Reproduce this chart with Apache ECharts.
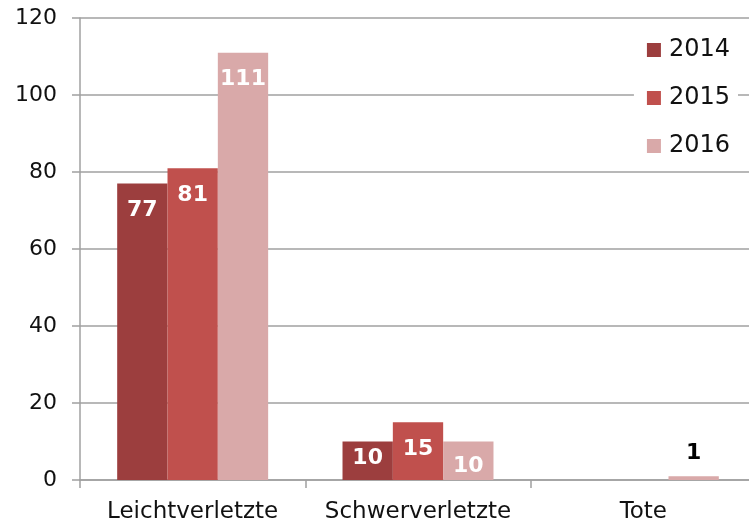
<!DOCTYPE html>
<html>
<head>
<meta charset="utf-8">
<script src="https://cdn.jsdelivr.net/npm/echarts@6/dist/echarts.min.js"></script>
<style>
  html, body { margin: 0; padding: 0; background: #fff; }
  #main { width: 749px; height: 526px; }
</style>
</head>
<body>
<div id="main"></div>
<script>
// Daten
const categories = ['Leichtverletzte', 'Schwerverletzte', 'Tote'];
const years = ['2014', '2015', '2016'];
const values2014 = [77, 10, 0];
const values2015 = [81, 15, 0];
const values2016 = [111, 10, 1];
const yTicks = [0, 20, 40, 60, 80, 100, 120];

const colors = ['#9c3e3e', '#c0504d', '#d9a9a9'];
const font = 'DejaVu Sans, Verdana, sans-serif';

const chart = echarts.init(document.getElementById('main'));

// Abstand der Beschriftung vom Balkenende (wie im Original leicht versetzt)
const labelDist = { '2014': [16, 6, 0], '2015': [16, 16, 0], '2016': [16, 14, 12] };

const makeSeries = (name, data, color) => ({
  name: name,
  type: 'bar',
  barGap: 0,
  barCategoryGap: '33%',
  itemStyle: { color: color },
  data: data.map((v, i) => ({
    value: v,
    // kleine Werte: Beschriftung schwarz über dem Balken
    label: v < 5
      ? { position: 'top', color: '#000', distance: labelDist[name][i] }
      : { distance: labelDist[name][i] },
  })),
  label: {
    show: true,
    position: 'insideTop',
    color: '#fff',
    fontFamily: font,
    fontWeight: 'bold',
    fontSize: 22,
    formatter: (p) => (p.value === 0 ? '' : String(p.value)),
  },
});

chart.setOption({
  animation: false,
  color: colors,
  textStyle: { fontFamily: font },
  legend: {
    orient: 'vertical',
    right: 11,
    top: 30,
    itemWidth: 14,
    itemHeight: 14,
    itemGap: 24,
    icon: 'rect',
    backgroundColor: '#fff',
    padding: [8, 8, 7, 13],
    textStyle: { fontSize: 24, color: '#111', fontFamily: font, padding: [0, 0, 0, 3] },
    data: years,
  },
  grid: {
    left: 80,
    width: 676,
    top: 18,
    bottom: 46,
    containLabel: false,
    outerBoundsMode: 'none',
  },
  xAxis: {
    type: 'category',
    data: categories,
    axisLine: { lineStyle: { color: '#a0a0a0', width: 1.5 } },
    axisTick: { show: true, length: 8, lineStyle: { color: '#a0a0a0', width: 1.5 } },
    axisLabel: { interval: 0, fontSize: 23, color: '#111', margin: 21, fontFamily: font },
  },
  yAxis: {
    type: 'value',
    min: yTicks[0],
    max: yTicks[yTicks.length - 1],
    interval: 20,
    axisLine: { show: true, lineStyle: { color: '#a0a0a0', width: 1.5 } },
    axisTick: { show: true, length: 8, lineStyle: { color: '#a0a0a0', width: 1.5 } },
    axisLabel: { fontSize: 22, color: '#111', margin: 23, fontFamily: font },
    splitLine: { lineStyle: { color: '#a0a0a0', width: 1.5 } },
  },
  series: [
    makeSeries(years[0], values2014, colors[0]),
    makeSeries(years[1], values2015, colors[1]),
    makeSeries(years[2], values2016, colors[2]),
  ],
});

window.addEventListener('resize', () => chart.resize());
</script>
</body>
</html>
